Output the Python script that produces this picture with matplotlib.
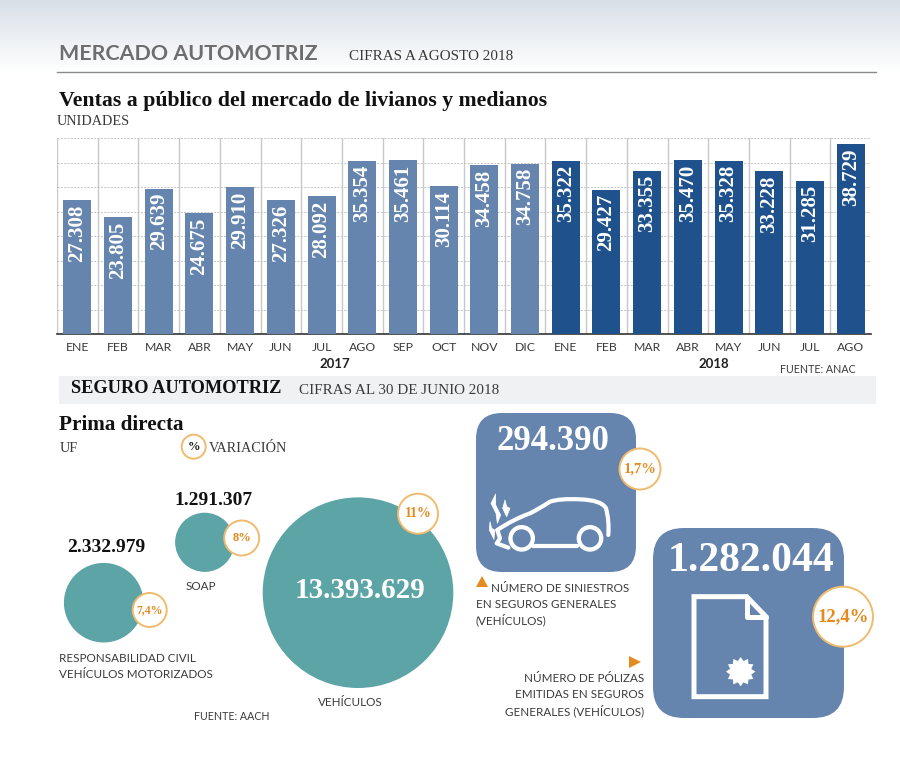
import numpy as np
import matplotlib
matplotlib.use("Agg")
import matplotlib.pyplot as plt
from matplotlib.colors import LinearSegmentedColormap
from matplotlib.patches import Circle, FancyBboxPatch, Polygon, PathPatch, Rectangle
from matplotlib.path import Path

# ventas mensuales
months = ["ENE", "FEB", "MAR", "ABR", "MAY", "JUN", "JUL", "AGO", "SEP", "OCT", "NOV", "DIC",
          "ENE", "FEB", "MAR", "ABR", "MAY", "JUN", "JUL", "AGO"]
sales_2017 = [27308, 23805, 29639, 24675, 29910, 27326, 28092, 35354, 35461, 30114, 34458, 34758]
sales_2018 = [35322, 29427, 33355, 35470, 35328, 33228, 31285, 38729]

# prima directa (UF)
bubble_names = ["RC", "SOAP", "VEHICULOS"]
bubble_values = [2332979, 1291307, 13393629]
bubble_var = ["7,4%", "8%", "11%"]

claims = 294390
claims_var = "1,7%"
policies = 1282044
policies_var = "12,4%"

BLUE = "#6685ae"
NAVY = "#1f528c"
TEAL = "#5ca4a6"
ORANGE = "#e58a1f"
RING = "#f0bb6e"
TXT = "#3a3a3a"
SERIF = ["Liberation Serif", "DejaVu Serif"]
NARROW = ["Lato", "Liberation Sans", "DejaVu Sans"]


def fmt(v):
    return f"{v:,}".replace(",", ".")


fig = plt.figure(figsize=(9, 7.79), dpi=100, facecolor="white")

# capa de fondo en pixeles, para todo lo que no es el grafico de barras
bg = fig.add_axes([0, 0, 1, 1], zorder=0)
grad = np.linspace(0, 1, 72).reshape(-1, 1)
bg.imshow(grad, extent=[0, 900, 72, 0], cmap=LinearSegmentedColormap.from_list("g", ["#d8dfe7", "#ffffff"]),
          aspect="auto", zorder=0)
bg.set_xlim(0, 900)
bg.set_ylim(779, 0)
bg.axis("off")

bg.plot([57, 876], [72, 72], color="#8a8a8a", lw=1)
bg.add_patch(Rectangle((59, 376), 817, 28, color="#f0f1f3", lw=0))


def label(x, y, s, size=8.4, color=TXT, family=NARROW, weight="normal", ha="left", zorder=6):
    bg.text(x, y, s, fontsize=size, color=color, family=family, weight=weight, ha=ha, va="center", zorder=zorder)


label(59, 54, "MERCADO AUTOMOTRIZ", 15.4, "#6e6e6e", NARROW, "bold")
label(349, 56, "CIFRAS A AGOSTO 2018", 10.9, TXT, SERIF)
label(59, 101, "Ventas a público del mercado de livianos y medianos", 15.7, "#111111", SERIF, "bold")
label(57, 121, "UNIDADES", 10.3, TXT, SERIF)

# barras
ax = fig.add_axes([57 / 900, (779 - 334) / 779, 814 / 900, 196 / 779], zorder=1)
ax.patch.set_alpha(0)
sales = sales_2017 + sales_2018
colors = [BLUE] * len(sales_2017) + [NAVY] * len(sales_2018)
pos = np.arange(len(sales))
ax.bar(pos, sales, width=0.69, color=colors, zorder=3)
for p, v in zip(pos, sales):
    ax.annotate(fmt(v), (p, v), xytext=(0, -3), textcoords="offset points", rotation=90, ha="center", va="top",
                color="white", fontsize=15, family=SERIF, weight="bold", zorder=4)
ax.set_xlim(-0.5, len(sales) - 0.5)
ax.set_ylim(0, 40000)
ax.set_yticks(np.arange(0, 40001, 5000))
ax.set_yticklabels([])
ax.set_xticks(pos)
ax.set_xticklabels(months, fontsize=8.8, color=TXT, family=NARROW)
ax.set_xticks(pos - 0.5, minor=True)
ax.tick_params(axis="both", which="both", length=0)
ax.tick_params(axis="x", pad=6)
ax.grid(axis="y", which="major", color="#bdbdbd", ls=(0, (2.5, 1.5)), lw=0.6, zorder=1)
ax.grid(axis="x", which="minor", color="#c8c8c8", lw=1, zorder=1)
for s in ["top", "left", "right"]:
    ax.spines[s].set_visible(False)
ax.spines["bottom"].set_color("#333333")
ax.spines["bottom"].set_linewidth(1.2)

label(335, 364, "2017", 9.5, "#222222", NARROW, "bold", ha="center")
label(714, 364, "2018", 9.5, "#222222", NARROW, "bold", ha="center")
label(780, 369, "FUENTE: ANAC", 7.7)

label(71, 388, "SEGURO AUTOMOTRIZ", 13.2, "#111111", SERIF, "bold")
label(299, 390, "CIFRAS AL 30 DE JUNIO 2018", 10.9, TXT, SERIF)
label(59, 425, "Prima directa", 15.2, "#111111", SERIF, "bold")
label(60, 448, "UF", 10.3, TXT, SERIF)
label(209, 448, "VARIACIÓN", 10.3, TXT, SERIF)


def ring(x, y, r, s, size, color=ORANGE):
    bg.add_patch(Circle((x, y), r, fc="white", ec=RING, lw=1.4, zorder=4))
    label(x, y, s, size, color, SERIF, "bold", ha="center", zorder=5)


ring(193.7, 446.7, 12, "%", 9, "#222222")

# burbujas: area proporcional al valor
r_max = 95.3
centers = [(103.7, 602.7), (204.7, 542.3), (358, 592.7)]
radii = [r_max * np.sqrt(v / max(bubble_values)) for v in bubble_values]
for c, r in zip(centers, radii):
    bg.add_patch(Circle(c, r, fc=TEAL, lw=0, zorder=3))

label(106.7, 548, fmt(bubble_values[0]), 14, "#111111", SERIF, "bold", ha="center")
label(213, 500, fmt(bubble_values[1]), 14, "#111111", SERIF, "bold", ha="center")
label(360, 590, fmt(bubble_values[2]), 21, "white", SERIF, "bold", ha="center")
ring(149.7, 610, 17, bubble_var[0], 8.5)
ring(241.7, 538, 17.5, bubble_var[1], 9)
ring(418, 513.7, 20, bubble_var[2], 10)

label(59, 658, "RESPONSABILIDAD CIVIL")
label(59, 674, "VEHÍCULOS MOTORIZADOS")
label(201, 587, "SOAP", ha="center")
label(350, 702, "VEHÍCULOS", ha="center")
label(194, 716, "FUENTE: AACH", 7.7)

# recuadros
bg.add_patch(FancyBboxPatch((476 + 26, 413 + 26), 160 - 52, 159 - 52, boxstyle="round,pad=26,rounding_size=26", fc=BLUE, lw=0, zorder=2))
bg.add_patch(FancyBboxPatch((653 + 31, 528 + 31), 191 - 62, 190 - 62, boxstyle="round,pad=31,rounding_size=31", fc=BLUE, lw=0, zorder=2))
label(553, 441, fmt(claims), 25, "white", SERIF, "bold", ha="center")
label(751, 561, fmt(policies), 30, "white", SERIF, "bold", ha="center")
ring(640, 469, 20.5, claims_var, 10.5)
ring(843, 616.7, 30, policies_var, 13.5)


def car_xy(p):
    return [(480 + a / 3, 480 + b / 3) for a, b in p]


def doc_xy(p):
    return [(470 + a / 3, 400 + b / 3) for a, b in p]


def stroke(pts, lw=3, curved=True):
    codes = [Path.MOVETO] + [Path.CURVE3 if curved else Path.LINETO] * (len(pts) - 1)
    bg.add_patch(PathPatch(Path(pts, codes), fc="none", ec="white", lw=lw, capstyle="round", joinstyle="round", zorder=3))


stroke(car_xy([(52, 150), (100, 118), (150, 100), (180, 85), (210, 65), (240, 55), (300, 58), (365, 60), (378, 85), (388, 120), (385, 165)]))
stroke(car_xy([(160, 197), (290, 197)]), curved=False)
stroke(car_xy([(52, 150), (60, 175), (50, 190), (85, 203)]), curved=False)
for cx, cy in car_xy([(125, 175), (330, 175)]):
    bg.add_patch(Circle((cx, cy), 11.2, fc="none", ec="white", lw=3.1, zorder=3))
smoke = [[(47, 42), (33, 70), (48, 100), (52, 130), (62, 105), (47, 75)],
         [(75, 60), (68, 85), (80, 110), (90, 85), (80, 80)],
         [(30, 125), (28, 150), (42, 178), (44, 150), (35, 145)]]
for s in smoke:
    bg.add_patch(Polygon(car_xy(s), closed=True, fc="white", ec="white", lw=0.5, joinstyle="round", zorder=3))

bg.add_patch(Polygon(doc_xy([(672, 590), (830, 590), (888, 650), (888, 890), (672, 890)]), closed=True, fc="none", ec="white", lw=3.6, joinstyle="miter", zorder=3))
stroke(doc_xy([(830, 590), (830, 650), (888, 650)]), 3.6, curved=False)
ang = np.linspace(0, 2 * np.pi, 24, endpoint=False) + np.pi / 2
rad = np.where(np.arange(24) % 2 == 0, 44 / 3, 33 / 3)
seal = np.column_stack([470 + 812 / 3 + rad * np.cos(ang), 400 + 815 / 3 + rad * np.sin(ang)])
bg.add_patch(Polygon(seal, closed=True, fc="white", lw=0, zorder=3))

bg.add_patch(Polygon([(476, 587), (488, 587), (482, 576)], closed=True, fc=ORANGE, lw=0, zorder=3))
bg.add_patch(Polygon([(629, 656), (641, 662), (629, 668)], closed=True, fc=ORANGE, lw=0, zorder=3))

label(491, 588, "NÚMERO DE SINIESTROS")
label(476, 604, "EN SEGUROS GENERALES")
label(476, 620, "(VEHÍCULOS)")
label(644, 679, "NÚMERO DE PÓLIZAS", ha="right")
label(644, 695, "EMITIDAS EN SEGUROS", ha="right")
label(644, 711, "GENERALES (VEHÍCULOS)", ha="right")

fig.savefig("out.png", dpi=100)
